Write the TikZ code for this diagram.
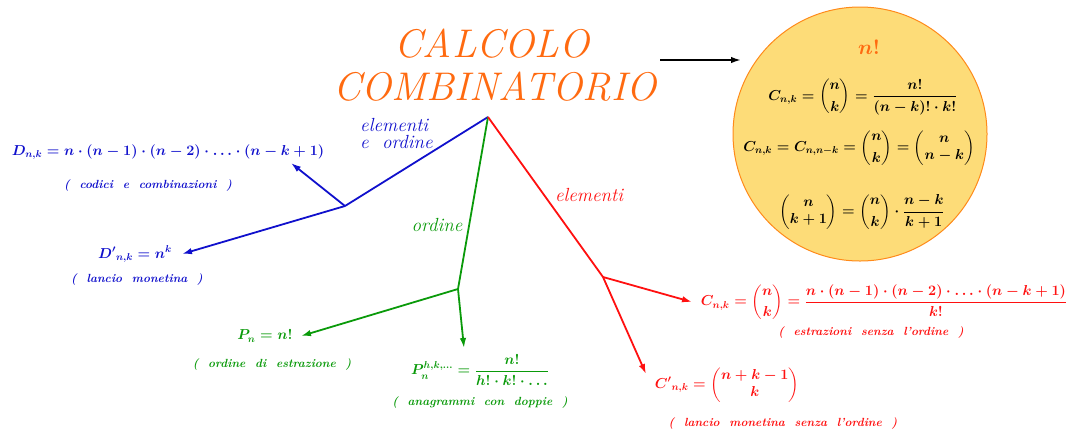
\documentclass[tikz,border=0pt]{standalone}
\usepackage{amsmath}
\usetikzlibrary{arrows.meta}
\definecolor{ttl}{HTML}{FF6A10}
\definecolor{cfill}{HTML}{FDDC78}
\definecolor{cdraw}{HTML}{FF8A1A}
\definecolor{bl}{HTML}{1010CC}
\definecolor{gr}{HTML}{0A9A0A}
\definecolor{rd}{HTML}{FF1010}
\begin{document}
\begin{tikzpicture}[x=1pt,y=-1pt,
  fml/.style={inner sep=0pt, font=\boldmath\fontsize{14}{17}\selectfont},
  lbl/.style={inner sep=0pt, font=\bfseries\itshape\fontsize{11.8}{13}\selectfont},
  brl/.style={inner sep=0pt, font=\itshape\fontsize{19}{21}\selectfont},
  ttlst/.style={inner sep=0pt, anchor=base, text=ttl, font=\itshape\fontsize{40}{42}\selectfont},
  branch/.style={line width=1.8pt},
  arr/.style={line width=1.8pt, -{Latex[length=10pt,width=6.5pt]}}]
\useasboundingbox (0,0) rectangle (1078,432);

% title
\node[ttlst] (t1) at (492,57) {CALCOLO};
\node[ttlst] (t2) at (495,100) {COMBINATORIO};

% circle
\node[circle, draw=cdraw, fill=cfill, line width=1pt, minimum size=254pt, inner sep=0pt] (circ) at (860,134) {};
\node[inner sep=0pt, text=ttl, font=\boldmath\fontsize{22}{24}\selectfont] (nf) at (869,47) {$n!$};
\node[fml] (c1) at (863,97) {$\displaystyle C_{n,k}=\binom{n}{k}=\frac{n!}{(n-k)!\cdot k!}$};
\node[fml] (c2) at (859,148) {$\displaystyle C_{n,k}=C_{n,n-k}=\binom{n}{k}=\left(\begin{matrix}n\\ n-k\end{matrix}\right)$};
\node[fml] (c3) at (862,212) {$\displaystyle \left(\begin{matrix}n\\ k+1\end{matrix}\right)=\binom{n}{k}\cdot\frac{n-k}{k+1}$};

\coordinate (as) at (660,60);
\coordinate (ae) at (741,60);
\draw[arr, black] (as) -- (ae);

% branch points
\coordinate (root) at (488,117);
\coordinate (bj) at (345,206);
\coordinate (gj) at (458,289);
\coordinate (rj) at (603,277);

% blue
\node[brl, text=bl, align=left, anchor=north west] (bl1) at (360,118) {elementi\\[-4pt]e\ \ ordine};
\node[fml, text=bl] (D) at (168,152) {$D_{n,k}=n\cdot(n-1)\cdot(n-2)\cdot\ldots\cdot(n-k+1)$};
\node[lbl, text=bl] (Dl) at (148,186) {(\ \ codici\ \ e\ \ combinazioni\ \ )};
\node[fml, text=bl] (Dp) at (135,254) {${D'}_{n,k}=n^k$};
\node[lbl, text=bl] (Dpl) at (137,280) {(\ \ lancio\ \ monetina\ \ )};
\coordinate (Dt) at (291,163);
\coordinate (Dpt) at (182,254);
\draw[branch, bl] (root) -- (bj);
\draw[arr, bl] (bj) -- (Dt);
\draw[arr, bl] (bj) -- (Dpt);

% green
\node[brl, text=gr] (gl) at (437,225) {ordine};
\node[fml, text=gr] (P) at (265,336) {$P_n=n!$};
\node[lbl, text=gr] (Pl) at (272,365) {(\ \ ordine\ \ di\ \ estrazione\ \ )};
\node[fml, text=gr] (Ph) at (480,370) {$\displaystyle P_n^{h,k,\ldots}=\frac{n!}{h!\cdot k!\cdot\ldots}$};
\node[lbl, text=gr] (Phl) at (480,403) {(\ \ anagrammi\ \ con\ \ doppie\ \ )};
\coordinate (Pt) at (301,336);
\coordinate (Pht) at (464,348);
\draw[branch, gr] (root) -- (gj);
\draw[arr, gr] (gj) -- (Pt);
\draw[arr, gr] (gj) -- (Pht);

% red
\node[brl, text=rd] (rl) at (589,195) {elementi};
\node[fml, text=rd] (C) at (884,302) {$\displaystyle C_{n,k}=\binom{n}{k}=\frac{n\cdot(n-1)\cdot(n-2)\cdot\ldots\cdot(n-k+1)}{k!}$};
\node[lbl, text=rd] (Cl) at (871,333) {(\ \ estrazioni\ \ senza\ \ l'ordine\ \ )};
\node[fml, text=rd] (Cp) at (727,385) {$\displaystyle {C'}_{n,k}=\left(\begin{matrix}n+k-1\\ k\end{matrix}\right)$};
\node[lbl, text=rd] (Cpl) at (783,424) {(\ \ lancio\ \ monetina\ \ senza\ \ l'ordine\ \ )};
\coordinate (Ct) at (692,302);
\coordinate (Cpt) at (646,374);
\draw[branch, rd] (root) -- (rj);
\draw[arr, rd] (rj) -- (Ct);
\draw[arr, rd] (rj) -- (Cpt);
\end{tikzpicture}
\end{document}
